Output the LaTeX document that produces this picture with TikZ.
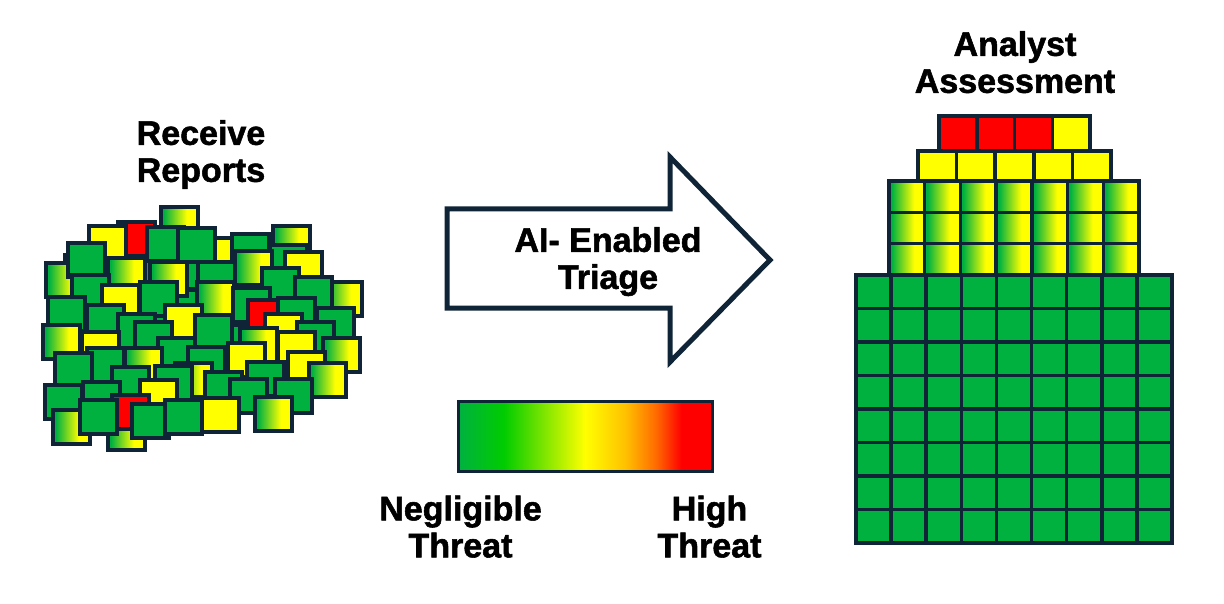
\documentclass[tikz,border=0pt]{standalone}
\usepackage{fontspec}
\setmainfont{Liberation Sans}
\newfontfamily\heavyfont{Liberation Sans}[BoldFeatures={FakeBold=1.6}]
\usetikzlibrary{positioning}
\definecolor{repframe}{HTML}{0F2537}
\definecolor{repgreen}{HTML}{00B140}
\definecolor{replime}{HTML}{00CC00}
\definecolor{repyellow}{HTML}{FFFF00}
\definecolor{reporange}{HTML}{FFC000}
\definecolor{repdeep}{HTML}{FF6A00}
\definecolor{repred}{HTML}{FF0000}
\pgfdeclarehorizontalshading{mixshade}{100bp}{color(0bp)=(repgreen); color(25bp)=(repgreen);
  color(29bp)=(repgreen); color(60bp)=(repyellow); color(75bp)=(repyellow); color(100bp)=(repyellow)}
\pgfdeclarehorizontalshading{threatbar}{100bp}{color(0bp)=(repgreen); color(25bp)=(repgreen);
  color(34bp)=(replime); color(50bp)=(repyellow); color(58bp)=(reporange); color(64bp)=(repdeep);
  color(69bp)=(repred); color(100bp)=(repred)}

\begin{document}
\begin{tikzpicture}[
  x=1pt, y=-1pt,
  lbl/.style={font=\heavyfont\fontsize{34}{37}\selectfont\bfseries, align=center, inner sep=0pt},
  cell/.style={draw=repframe, line width=3.5pt},
  gbox/.style={cell, fill=repgreen},
  ybox/.style={cell, fill=repyellow},
  rbox/.style={cell, fill=repred},
  sbox/.style={cell, shading=mixshade},
]
\useasboundingbox[fill=white] (0,0) rectangle (1224,604);

%% -- Left: heap of incoming reports ------------------------------------------
% filler underneath, so no holes show through the heap
\foreach \px in {65,100,...,275}
  \foreach \py in {255,290,325,360}
    \draw[gbox] (\px,\py) rectangle ++(37,34);
% the heap itself, back to front
\foreach \px/\py/\k in {161/207/sbox, 118/222/rbox, 205/238/ybox, 46/263/sbox, 89/226/ybox,
    273/226/sbox, 147/227/gbox, 178/228/gbox, 232/234/gbox, 68/243/gbox, 270/245/gbox,
    235/251/sbox, 285/252/ybox, 108/258/sbox, 150/262/sbox, 198/262/gbox, 262/268/gbox,
    72/275/gbox, 325/282/sbox, 295/277/gbox, 140/282/gbox, 197/282/sbox, 102/285/ybox,
    233/288/gbox, 48/297/gbox, 248/300/rbox, 278/298/gbox, 165/305/ybox, 317/308/gbox,
    87/305/gbox, 118/314/gbox, 195/315/gbox, 265/314/ybox, 43/325/sbox, 82/332/ybox,
    135/322/gbox, 297/322/gbox, 240/328/sbox, 278/332/ybox, 158/338/gbox, 323/338/sbox,
    228/343/ybox, 87/348/gbox, 188/347/gbox, 125/348/sbox, 55/353/gbox, 288/352/ybox,
    247/362/gbox, 309/363/sbox, 175/363/sbox, 155/366/gbox, 112/367/gbox, 205/372/gbox,
    140/380/ybox, 83/382/gbox, 230/379/gbox, 275/379/gbox, 45/385/gbox, 53/410/sbox,
    108/416/sbox, 112/395/rbox, 80/400/gbox, 132/404/gbox, 165/400/gbox, 202/398/ybox,
    255/397/sbox}
  \draw[\k] (\px,\py) rectangle ++(37,34);

\node[lbl, anchor=north] (recv) at (201,120) {Receive\\Reports};

%% -- Middle: triage arrow ------------------------------------------------------
\draw[draw=repframe, fill=white, line width=5pt, line join=miter]
  (447,209) -- (670,209) -- (670,157) -- (770,260) -- (670,362) -- (670,308)
  -- (447,308) -- cycle;
\node[lbl, anchor=north] (triage) at (608,227) {AI- Enabled\\Triage};

%% -- Middle: threat scale -----------------------------------------------------
\node[draw=repframe, line width=3pt, shading=threatbar, minimum width=254pt,
      minimum height=70pt, inner sep=0pt] (bar) at (585,436) {};
\node[lbl, anchor=north] (neg)  at ([xshift=4pt, yshift=-23pt]bar.south west) {Negligible\\Threat};
\node[lbl, anchor=north] (high) at ([xshift=-4pt, yshift=-23pt]bar.south east) {High\\Threat};

%% -- Right: sorted stack for the analyst ----------------------------------------
\foreach \c in {0,...,8}
  \foreach \r in {0,...,7}
    \draw[gbox] ({856+\c*35.11},{275+\r*33.5}) rectangle ++(35.11,33.5);
\foreach \c in {0,...,6}
  \foreach \r in {0,1,2}
    \draw[sbox] ({889+\c*35.71},{181+\r*31.33}) rectangle ++(35.71,31.33);
\foreach \c in {0,...,4}
  \draw[ybox] ({918+\c*38.6},151) rectangle ++(38.6,30);
\foreach \c/\k in {0/rbox, 1/rbox, 2/rbox, 3/ybox}
  \draw[\k] ({939+\c*37.75},116) rectangle ++(37.75,35);

\node[lbl, anchor=north] (analyst) at (1015,31) {Analyst\\Assessment};

\end{tikzpicture}
\end{document}
